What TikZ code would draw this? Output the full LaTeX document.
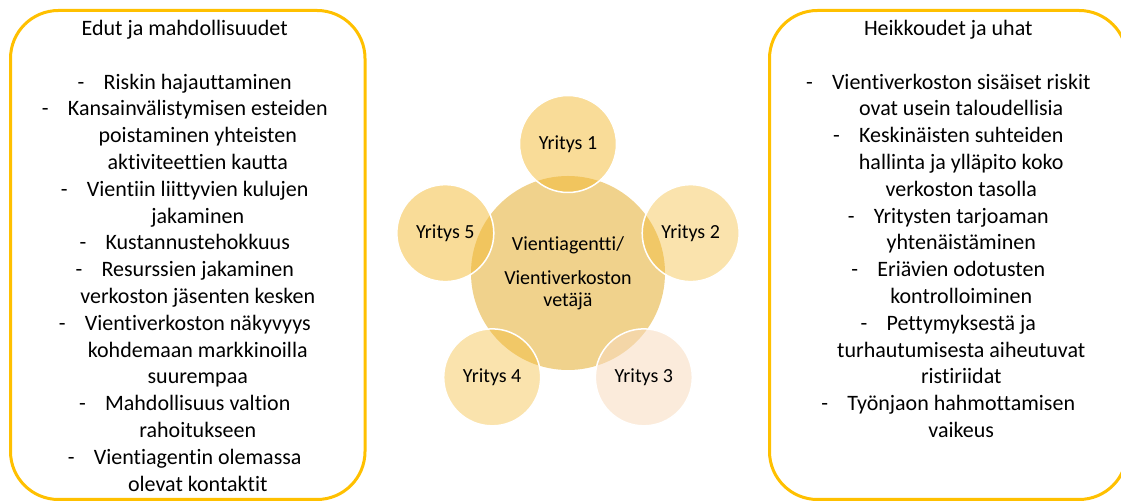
\documentclass[tikz,border=0pt]{standalone}
\usepackage{fontspec}
\setmainfont{Carlito}[Ligatures = NoCommon]
\usepackage{xcolor}
\usepackage{tikz}
\usetikzlibrary{positioning,calc}
\definecolor{oranssi}{HTML}{FFC000}
\definecolor{keskus}{HTML}{F0D28C}
\definecolor{kulta}{HTML}{F3B931}
\definecolor{persikka}{HTML}{F8DBBE}
\newcommand{\viiva}{\makebox[26pt][l]{-}}
\newcommand{\jatko}{\hspace*{26pt}}

\begin{document}
\begin{tikzpicture}[x = 1pt, y = 1pt,
  laatikko/.style = {draw = oranssi, line width = 3pt, rounded corners = 48pt, minimum width = 354.5pt, minimum height = 489pt, inner sep = 0pt},
  lista/.style = {anchor = north, align = center, inner sep = 0pt, font = \fontsize{22}{26.8}\selectfont},
  yritys/.style = {circle, draw = white, line width = 1.5pt, fill = kulta, text opacity = 1, minimum size = 97pt, inner sep = 0pt, font = \fontsize{20}{24}\selectfont}]
\useasboundingbox (0,0) rectangle (1121,502);
\clip (0,0) rectangle (1121,502);
\node[laatikko] (edut) at (187.75,247) {};
\node[laatikko, minimum width = 357.5pt] (heikkoudet) at (948.25,247) {};
\node[lista, below = 11pt of edut.north, xshift = -3pt] (edutteksti) {Edut ja mahdollisuudet\\[26.8pt]
\viiva Riskin hajauttaminen\\
\viiva Kansainvälistymisen esteiden\\
\jatko poistaminen yhteisten\\
\jatko aktiviteettien kautta\\
\viiva Vientiin liittyvien kulujen\\
\jatko jakaminen\\
\viiva Kustannustehokkuus\\
\viiva Resurssien jakaminen\\
\jatko verkoston jäsenten kesken\\
\viiva Vientiverkoston näkyvyys\\
\jatko kohdemaan markkinoilla\\
\jatko suurempaa\\
\viiva Mahdollisuus valtion\\
\jatko rahoitukseen\\
\viiva Vientiagentin olemassa\\
\jatko olevat kontaktit};
\node[lista, below = 11pt of heikkoudet.north] (heikkoudetteksti) {Heikkoudet ja uhat\\[26.8pt]
\viiva Vientiverkoston sisäiset riskit\\
\jatko ovat usein taloudellisia\\
\viiva Keskinäisten suhteiden\\
\jatko hallinta ja ylläpito koko\\
\jatko verkoston tasolla\\
\viiva Yritysten tarjoaman\\
\jatko yhtenäistäminen\\
\viiva Eriävien odotusten\\
\jatko kontrolloiminen\\
\viiva Pettymyksestä ja\\
\jatko turhautumisesta aiheutuvat\\
\jatko ristiriidat\\
\viiva Työnjaon hahmottamisen\\
\jatko vaikeus};
\node[circle, fill = keskus, minimum size = 194pt, inner sep = 0pt, align = center, font = \fontsize{20}{22}\selectfont] (agentti) at (568,229) {Vientiagentti/\\[12pt]Vientiverkoston\\vetäjä};
\node[yritys, fill opacity = .5] (y1) at ($(agentti)+(90:129)$) {Yritys 1};
\node[yritys, fill opacity = .4] (y2) at ($(agentti)+(18:129)$) {Yritys 2};
\node[yritys, fill = persikka, fill opacity = .55] (y3) at ($(agentti)+(-54:129)$) {Yritys 3};
\node[yritys, fill opacity = .4] (y4) at ($(agentti)+(-126:129)$) {Yritys 4};
\node[yritys, fill opacity = .5] (y5) at ($(agentti)+(162:129)$) {Yritys 5};
\end{tikzpicture}
\end{document}
